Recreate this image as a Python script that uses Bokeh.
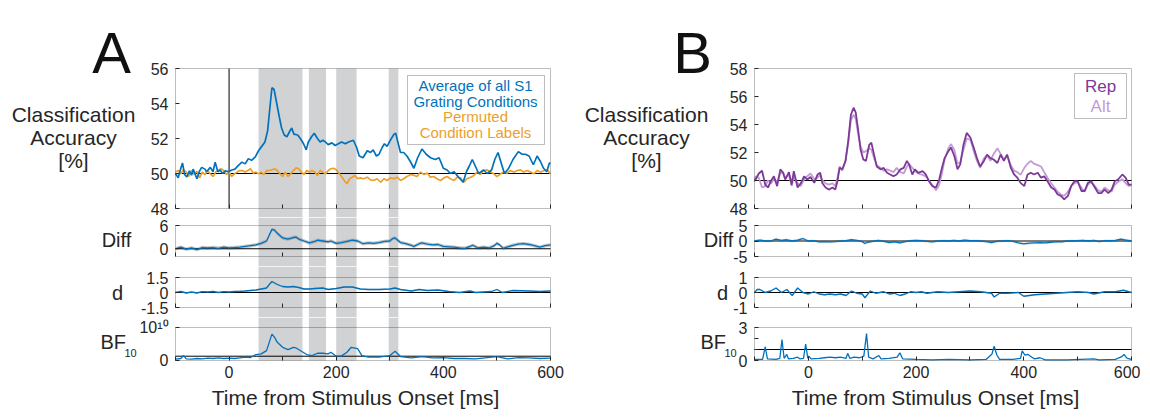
from bokeh.plotting import figure
from bokeh.layouts import column, row
from bokeh.models import Range1d, FixedTicker, BoxAnnotation, Label
from bokeh.embed import file_html
from bokeh.resources import INLINE

# ---------------- data ----------------
x_major_ticks = [0, 200, 400, 600]
x_minor_ticks = [-100, 100, 300, 500]
shade_start = [55, 149, 200, 298]
shade_end = [137, 181, 238, 316]

# Panel A: classification accuracy (blue = all S1 grating conditions)
t_acc_A = [-100, -95, -91, -87, -83, -79, -74, -70, -67, -60, -55, -51, -45, -42, -35, -30, -26, -21, -17, -12,
           -7, -1, 5, 11, 17, 24, 30, 36, 42, 49, 55, 61, 67, 72, 77, 80, 84, 89, 94, 98,
           103, 108, 113, 117, 121, 128, 133, 139, 144, 148, 154, 159, 165, 170, 175, 180, 185, 192, 198, 204,
           210, 217, 223, 232, 238, 243, 250, 258, 264, 269, 275, 280, 286, 290, 295, 301, 308, 311, 315, 320,
           326, 332, 338, 345, 352, 360, 368, 376, 385, 392, 400, 407, 413, 420, 428, 437, 443, 448, 454, 460,
           466, 475, 482, 490, 496, 502, 508, 514, 522, 530, 540, 547, 553, 560, 568, 575, 581, 587, 593, 598, 600]
acc_A = [50.0, 49.75, 50.2, 50.6, 49.95, 49.8, 50.15, 49.9, 50.25, 49.7, 50.15, 50.35, 50.25, 50.1, 50.35, 50.1, 50.65, 50.1, 50.2, 50.0,
         50.15, 50.1, 50.2, 50.25, 50.45, 50.65, 50.55, 50.85, 50.75, 50.95, 51.3, 51.55, 51.8, 52.45, 54.0, 54.9, 54.8, 54.0, 53.2, 52.6,
         52.2, 52.1, 52.4, 52.6, 52.25, 52.2, 52.0, 51.7, 51.35, 51.8, 52.1, 52.3, 52.0, 51.8, 51.9, 51.8, 51.65, 51.75, 51.6, 51.7,
         51.8, 51.7, 51.8, 51.9, 51.5, 51.0, 50.9, 51.3, 51.2, 51.35, 51.0, 51.1, 51.5, 51.7, 51.55, 51.9, 52.25, 52.3, 51.8, 51.2,
         51.2, 51.0, 50.7, 50.3, 50.9, 51.4, 51.1, 50.9, 50.8, 50.9, 50.3, 50.2, 50.0, 50.1, 49.8, 49.5, 50.1, 50.4, 50.8, 50.4,
         50.0, 50.2, 50.0, 50.2, 50.8, 51.2, 50.6, 50.0, 50.3, 50.8, 51.25, 51.1, 51.1, 51.0, 50.5, 51.0, 50.7, 50.3, 50.1, 50.6, 50.6]

# Panel A: permuted condition labels (orange)
t_perm_A = [-100, -95, -90, -85, -80, -75, -70, -65, -60, -55, -50, -45, -40, -35, -30, -25, -20, -15, -10, -5,
            0, 5, 10, 15, 20, 25, 30, 35, 40, 45, 50, 55, 60, 65, 70, 75, 80, 85, 90, 95,
            100, 105, 110, 115, 120, 125, 130, 135, 140, 145, 150, 155, 160, 165, 170, 175, 180, 185, 190, 195,
            200, 205, 210, 215, 220, 225, 230, 235, 240, 245, 251, 258, 264, 270, 276, 283, 289, 295, 301, 308,
            314, 320, 326, 332, 339, 345, 351, 357, 364, 370, 376, 382, 388, 395, 401, 407, 413, 420, 426, 432,
            438, 444, 451, 457, 463, 469, 475, 482, 488, 494, 500, 507, 513, 519, 525, 532, 538, 544, 550, 556,
            563, 569, 575, 581, 588, 594, 600]
perm_A = [50.08, 50.17, 49.98, 50.21, 50.08, 49.83, 50.17, 49.94, 50.13, 49.75, 50.08, 49.94, 50.17, 49.98, 49.83, 50.08, 50.17, 50.27, 50.17, 49.94,
          50.08, 49.83, 49.98, 50.08, 50.17, 50.17, 50.08, 50.17, 50.27, 50.02, 50.08, 49.98, 50.08, 49.94, 50.17, 50.17, 50.21, 50.27, 50.17, 49.98,
          49.83, 50.08, 49.83, 49.98, 50.17, 50.32, 50.27, 50.08, 49.94, 50.17, 50.08, 50.17, 50.08, 49.89, 50.17, 50.08, 49.98, 50.17, 50.27, 50.3,
          50.21, 50.02, 49.83, 49.6, 49.41, 49.7, 49.79, 49.89, 49.7, 49.75, 49.7, 49.79, 49.64, 49.6, 49.7, 49.5, 49.7, 49.6, 49.75, 49.7,
          49.79, 49.6, 49.7, 49.83, 49.94, 49.89, 49.83, 50.08, 49.94, 50.02, 49.79, 49.83, 49.7, 49.6, 49.75, 49.83, 49.7, 49.6, 49.79, 49.75,
          49.5, 49.7, 49.79, 49.89, 50.08, 49.94, 50.17, 50.21, 50.08, 49.98, 49.83, 49.98, 50.08, 50.02, 50.17, 50.08, 50.17, 50.21, 50.08, 50.17,
          50.08, 49.98, 50.17, 50.08, 50.17, 50.21, 49.98]

# Panel A: difference, effect size d, Bayes factor
t_diff_A = [-100, -90, -80, -70, -60, -50, -40, -30, -20, -10, 0, 10, 20, 30, 40, 50, 60, 70, 75, 80,
            85, 90, 100, 110, 120, 125, 130, 140, 150, 160, 165, 175, 185, 190, 200, 210, 220, 230, 240, 250,
            260, 270, 280, 290, 300, 305, 310, 320, 330, 340, 345, 355, 360, 370, 380, 390, 400, 410, 420, 430,
            440, 450, 455, 465, 475, 485, 495, 500, 505, 512, 520, 530, 540, 550, 560, 570, 580, 590, 600]
diff_A = [0.0, 0.4, -0.1, 0.2, -0.2, 0.3, 0.2, 0.3, 0.1, 0.4, 0.2, 0.3, 0.4, 0.6, 0.8, 1.0, 1.4, 2.0, 3.5, 5.0,
          4.8, 4.0, 2.8, 2.5, 2.9, 3.0, 2.5, 2.0, 1.5, 1.9, 2.2, 2.0, 1.8, 2.0, 1.4, 1.6, 1.9, 2.2, 2.0, 1.3,
          1.5, 1.4, 1.6, 1.9, 2.0, 2.6, 2.8, 1.6, 1.3, 0.9, 0.6, 1.3, 1.5, 1.2, 1.0, 1.1, 0.6, 0.5, 0.4, 0.2,
          0.1, 0.6, 0.9, 0.2, 0.4, 0.2, 0.8, 1.4, 1.0, 0.1, 0.5, 0.9, 1.2, 1.3, 1.1, 0.8, 0.4, 0.8, 1.0]
diff_sem_A = 0.45

t_d_A = [-100, -90, -80, -70, -60, -50, -40, -30, -20, -10, 0, 10, 20, 30, 40, 50, 60, 70, 75, 80,
         85, 90, 100, 110, 120, 130, 140, 150, 160, 175, 185, 200, 215, 230, 245, 260, 280, 300, 310, 320,
         340, 355, 370, 390, 410, 430, 450, 460, 490, 500, 510, 530, 560, 580, 600]
d_A = [0.0, 0.1, -0.05, 0.05, -0.05, 0.08, 0.05, 0.1, 0.0, 0.08, 0.05, 0.1, 0.12, 0.15, 0.2, 0.25, 0.35, 0.45, 0.8, 1.1,
       0.95, 0.8, 0.6, 0.55, 0.6, 0.5, 0.35, 0.35, 0.4, 0.45, 0.3, 0.4, 0.55, 0.55, 0.35, 0.3, 0.3, 0.35, 0.45, 0.3,
       0.15, 0.3, 0.2, 0.25, 0.1, 0.0, 0.15, 0.0, 0.1, 0.3, 0.0, 0.2, 0.15, 0.1, 0.15]
d_sem_A = 0.07

t_bf_A = [-100, -90, -85, -80, -70, -60, -50, -40, -30, -20, -10, 0, 10, 20, 30, 40, 50, 60, 70, 75,
          80, 85, 90, 100, 110, 120, 125, 135, 145, 155, 165, 175, 185, 190, 200, 210, 220, 228, 240, 248,
          260, 280, 300, 310, 320, 340, 360, 380, 400, 420, 440, 460, 500, 520, 540, 560, 580, 600]
bf_A = [0.4, 0.6, 1.5, 0.5, 0.4, 0.6, 0.5, 0.7, 0.6, 0.8, 0.6, 0.7, 0.6, 0.8, 1.0, 0.9, 1.8, 2.0, 3.0, 5.5,
        8.0, 7.0, 5.5, 4.0, 3.3, 4.0, 3.8, 2.8, 1.8, 1.5, 2.2, 2.2, 2.0, 2.5, 1.3, 1.4, 2.5, 4.0, 3.6, 1.5,
        1.0, 1.0, 1.5, 2.8, 1.2, 0.8, 1.2, 0.8, 0.9, 0.6, 0.6, 0.5, 1.2, 0.5, 0.9, 0.8, 0.6, 0.7]
bf_ref_A = 1.3

# Panel B: Rep vs Alt
t_B = [-100, -98, -92, -86, -80, -75, -69, -64, -58, -52, -47, -43, -36, -31, -27, -20, -14, -8, -2, 4,
       11, 17, 22, 26, 32, 38, 45, 50, 54, 58, 63, 69, 74, 79, 84, 88, 92, 97, 102, 107,
       113, 117, 122, 127, 134, 140, 146, 152, 158, 164, 171, 177, 183, 187, 193, 198, 204, 212, 218, 224,
       230, 237, 243, 248, 253, 260, 265, 271, 277, 282, 288, 294, 301, 307, 313, 319, 326, 332, 338, 344,
       351, 357, 363, 369, 376, 382, 388, 394, 401, 407, 413, 419, 426, 432, 438, 444, 451, 457, 463, 469,
       475, 482, 488, 494, 500, 507, 513, 519, 525, 532, 538, 544, 550, 557, 563, 569, 575, 583, 589, 595, 600]
rep_B = [50.1, 50.07, 50.5, 50.7, 49.7, 49.5, 50.0, 50.3, 49.6, 50.8, 50.55, 50.07, 50.6, 49.7, 50.67, 49.5, 49.8, 50.3, 50.07, 50.25,
         49.83, 50.43, 50.55, 49.8, 49.5, 49.35, 49.5, 49.35, 49.95, 50.9, 50.8, 51.4, 52.8, 54.7, 55.2, 54.85, 53.75, 52.2, 51.5, 51.4,
         52.55, 52.7, 51.85, 51.0, 50.8, 50.9, 50.55, 50.43, 50.3, 50.43, 50.8, 50.9, 51.4, 51.15, 50.43, 50.8, 50.55, 50.67, 50.43, 49.95,
         49.6, 49.5, 50.07, 50.9, 51.6, 52.1, 52.35, 51.75, 50.8, 51.15, 52.55, 53.4, 53.05, 52.35, 51.6, 51.0, 51.4, 51.85, 51.6, 51.5,
         51.25, 51.85, 51.4, 51.85, 50.9, 50.43, 50.2, 49.83, 49.6, 50.43, 50.55, 50.43, 50.55, 50.2, 50.3, 49.95, 49.5, 49.35, 49.0, 48.9,
         48.65, 48.9, 49.6, 49.95, 49.95, 49.25, 49.25, 49.83, 49.95, 49.5, 49.1, 49.1, 49.35, 49.1, 49.35, 49.95, 50.07, 50.43, 50.2, 49.7, 49.7]
alt_B = [49.9, 50.3, 50.2, 49.5, 49.6, 50.0, 49.8, 50.1, 49.9, 50.5, 50.6, 50.2, 50.4, 49.6, 50.3, 49.8, 49.6, 50.1, 50.3, 50.5,
         50.1, 50.2, 50.4, 50.0, 49.8, 49.7, 49.8, 49.6, 50.2, 51.0, 50.7, 51.4, 52.7, 54.3, 54.7, 54.4, 53.4, 52.4, 52.0, 52.1,
         52.3, 52.2, 51.6, 51.1, 50.9, 50.7, 50.8, 50.7, 50.6, 50.9, 50.6, 50.5, 51.0, 51.2, 50.9, 50.7, 50.5, 50.4, 50.3, 50.0,
         49.7, 49.3, 49.7, 50.5, 51.5, 52.3, 52.6, 52.2, 51.2, 51.3, 52.2, 53.0, 52.9, 52.1, 51.4, 50.9, 51.6, 51.8, 51.4, 51.9,
         52.3, 51.9, 51.5, 51.8, 51.1, 50.7, 50.6, 50.4, 50.9, 51.2, 51.4, 51.2, 51.1, 51.0, 50.6, 50.2, 49.8, 49.5, 49.2, 49.0,
         48.9, 49.2, 49.6, 49.8, 49.9, 49.5, 49.2, 49.7, 49.9, 49.6, 49.3, 49.2, 49.5, 49.3, 49.2, 49.7, 49.9, 50.1, 49.8, 49.6, 49.7]

t_diff_B = [-100, -90, -80, -70, -60, -50, -40, -30, -20, -10, 0, 10, 20, 30, 40, 50, 60, 70, 80, 90,
            100, 105, 110, 120, 130, 140, 150, 160, 170, 180, 190, 200, 210, 220, 230, 240, 250, 260, 270, 280,
            290, 300, 310, 320, 330, 340, 350, 360, 370, 380, 390, 400, 410, 420, 430, 440, 450, 460, 470, 480,
            490, 500, 510, 520, 530, 540, 550, 560, 570, 580, 590, 600]
diff_B = [0.0, 0.3, 0.0, 0.0, 0.6, 0.2, 0.4, 0.0, 0.3, 0.8, 0.0, 0.1, -0.3, -0.2, -0.3, -0.2, 0.0, 0.1, 0.4, 0.2,
          -0.2, -0.8, -0.4, -0.1, 0.2, -0.1, -0.5, -0.3, -0.6, -0.2, 0.1, 0.2, 0.1, -0.1, -0.3, 0.0, 0.1, 0.0, 0.2, 0.0,
          0.3, 0.1, 0.1, 0.0, -0.2, -0.5, -0.1, 0.0, 0.1, -0.1, -0.6, -0.9, -0.7, -0.6, -0.5, -0.6, -0.4, -0.2, -0.3, 0.0,
          0.0, 0.1, 0.2, 0.0, 0.2, -0.2, 0.1, 0.1, 0.2, 0.6, 0.3, 0.0]
diff_sem_B = 0.4

t_d_B = [-100, -95, -90, -80, -70, -60, -50, -40, -30, -20, -10, 0, 10, 20, 30, 40, 50, 60, 70, 80,
         90, 100, 105, 115, 125, 140, 150, 160, 170, 180, 190, 200, 210, 220, 240, 260, 280, 300, 320, 340,
         345, 355, 370, 390, 400, 410, 420, 440, 460, 480, 500, 520, 530, 550, 570, 585, 595, 600]
d_B = [0.0, 0.2, 0.2, 0.0, 0.1, 0.3, 0.0, 0.2, -0.2, 0.3, 0.0, -0.1, 0.05, -0.1, -0.15, -0.1, -0.15, -0.1, -0.2, 0.1,
       -0.05, -0.1, -0.35, 0.1, -0.05, 0.05, -0.1, -0.05, -0.2, -0.1, 0.05, 0.0, 0.05, -0.05, 0.05, 0.0, 0.05, 0.1, 0.05, -0.05,
       -0.3, -0.05, -0.05, 0.0, -0.25, -0.2, -0.15, -0.1, -0.05, 0.0, 0.05, 0.0, -0.1, 0.05, 0.05, 0.15, 0.05, 0.0]
d_sem_B = 0.05

t_bf_B = [-100, -85, -80, -76, -60, -53, -49, -45, -40, -37, -28, -20, -16, -9, -5, -1, 1, 5, 20, 30,
          40, 50, 60, 70, 73, 77, 85, 95, 103, 108, 112, 120, 131, 135, 150, 165, 170, 175, 200, 230,
          260, 300, 330, 341, 345, 350, 355, 380, 394, 397, 402, 408, 415, 420, 430, 440, 480, 530, 540, 570,
          582, 586, 592, 600]
bf_B = [0.1, 0.1, 1.25, 0.15, 0.1, 0.2, 1.9, 0.2, 0.55, 0.15, 0.2, 0.3, 0.15, 0.2, 1.5, 0.2, 0.4, 0.15, 0.2, 0.25,
        0.3, 0.25, 0.3, 0.2, 0.65, 0.2, 0.3, 0.25, 0.4, 2.45, 0.3, 0.15, 0.45, 0.15, 0.2, 0.3, 0.7, 0.15, 0.1, 0.05,
        0.1, 0.05, 0.1, 0.6, 1.3, 0.5, 0.1, 0.1, 0.2, 0.87, 0.5, 0.55, 0.3, 0.15, 0.25, 0.05, 0.05, 0.15, 0.05, 0.1,
        0.35, 0.55, 0.2, 0.1]
bf_ref_B = 1.0

# ---------------- style / layout ----------------
FONT = "Liberation Sans"
AX = "#262626"
BLUE = "#0072BD"
ORANGE = "#EBA02A"
GRAY = "#D1D2D4"
REP = "#7B3A96"
ALT = "#C39BD6"
TICK_FS = "16px"

# column geometry in page pixels: (canvas left, canvas width, box left, box right)
COL_A = (0, 575, 175, 550)
COL_B = (575, 565, 754, 1131)
# vertical slices: (slice top, slice bottom, box top, box bottom)
ROW_TOP = (0, 217, 68, 208)
ROW_DIFF = (217, 266, 225, 256)
ROW_D = (266, 317, 277, 307)
ROW_BF = (317, 410, 327, 360)


class Panel:
    def __init__(self, col, rowg, ylo, yhi, yticks, bottom=False, overrides=None,
                 minor_y=None, shade_top=False, shade_bottom=False, shaded=False):
        cl, cw, bl, br = col
        st, sb, bt, bb = rowg
        self.cl, self.st = cl, st
        self.sx = 700.0 / (br - bl)
        self.sy = (yhi - ylo) / float(bb - bt)
        x0 = -100 - (bl - cl) * self.sx
        x1 = 600 + (cl + cw - br) * self.sx
        y1 = yhi + (bt - st) * self.sy
        y0 = ylo - (sb - bb) * self.sy
        self.x0, self.y1 = x0, y1
        p = figure(width=cw, height=sb - st, x_range=Range1d(x0, x1), y_range=Range1d(y0, y1),
                   output_backend="svg", toolbar_location=None, min_border=0)
        p.title.visible = False
        p.grid.visible = False
        p.outline_line_color = None
        p.background_fill_color = "white"
        p.border_fill_color = "white"
        self.p = p
        if shaded:
            for s, e in zip(shade_start, shade_end):
                p.add_layout(BoxAnnotation(left=s, right=e,
                                           top=yhi if shade_top else None,
                                           bottom=ylo if shade_bottom else None,
                                           fill_color=GRAY, fill_alpha=1,
                                           line_color=None, level="underlay"))
        # axes box
        p.add_layout(BoxAnnotation(left=-100, right=600, bottom=ylo, top=yhi,
                                   fill_color=None, fill_alpha=0,
                                   line_color=AX, line_width=1, level="overlay"))
        xa = p.xaxis[0]
        xa.fixed_location = ylo
        if bottom:
            xa.ticker = FixedTicker(ticks=x_major_ticks, minor_ticks=x_minor_ticks)
            xa.major_label_text_font = FONT
            xa.major_label_text_font_size = TICK_FS
            xa.major_label_text_color = AX
            xa.major_label_standoff = 5
        else:
            xa.ticker = FixedTicker(ticks=[], minor_ticks=x_major_ticks + x_minor_ticks)
        xa.axis_line_color = None
        xa.major_tick_in = 4
        xa.major_tick_out = 0
        xa.minor_tick_in = 4
        xa.minor_tick_out = 0
        xa.major_tick_line_color = AX
        xa.minor_tick_line_color = AX
        ya = p.yaxis[0]
        ya.fixed_location = -100
        ya.ticker = FixedTicker(ticks=yticks, minor_ticks=minor_y or [])
        ya.axis_line_color = None
        ya.major_tick_in = 4
        ya.major_tick_out = 0
        ya.minor_tick_in = 4
        ya.minor_tick_out = 0
        ya.major_tick_line_color = AX
        ya.minor_tick_line_color = AX
        ya.major_label_text_font = FONT
        ya.major_label_text_font_size = TICK_FS
        ya.major_label_text_color = AX
        ya.major_label_standoff = 7
        if overrides:
            ya.major_label_overrides = overrides

    def fx(self, px):
        return self.x0 + (px - self.cl) * self.sx

    def fy(self, py):
        return self.y1 - (py - self.st) * self.sy

    def text(self, px, py, s, size, color=AX, align="center", baseline="middle"):
        self.p.add_layout(Label(x=self.fx(px), y=self.fy(py), text=s, text_font=FONT,
                                text_font_size=size, text_color=color,
                                text_align=align, text_baseline=baseline))

    def legend_box(self, left, right, top, bottom):
        self.p.add_layout(BoxAnnotation(left=self.fx(left), right=self.fx(right),
                                        top=self.fy(top), bottom=self.fy(bottom),
                                        fill_color="white", fill_alpha=1,
                                        line_color=AX, line_width=1))

    def hline(self, y):
        self.p.segment(x0=[-100], x1=[600], y0=[y], y1=[y], line_color="black", line_width=1)


# ---------------- Panel A ----------------
a1 = Panel(COL_A, ROW_TOP, 48, 56, [48, 50, 52, 54, 56], shaded=True, shade_top=True)
a1.p.segment(x0=[0], x1=[0], y0=[48], y1=[56], line_color="black", line_width=1)
a1.hline(50)
a1.p.line(t_perm_A, perm_A, line_color=ORANGE, line_width=1.7)
a1.p.line(t_acc_A, acc_A, line_color=BLUE, line_width=1.7)
a1.legend_box(407, 544, 75, 144)
a1.text(475, 85, "Average of all S1", "15px", BLUE)
a1.text(475, 100.5, "Grating Conditions", "15px", BLUE)
a1.text(475, 116, "Permuted", "15px", ORANGE)
a1.text(475, 131.5, "Condition Labels", "15px", ORANGE)
a1.text(111, 52, "A", "58px", "#111111", baseline="alphabetic")
a1.text(73, 114, "Classification", "21px")
a1.text(73, 137, "Accuracy", "21px")
a1.text(73, 160, "[%]", "21px")

a2 = Panel(COL_A, ROW_DIFF, -2, 6, [0, 6], shaded=True)
a2.p.varea(x=t_diff_A, y1=[v - diff_sem_A for v in diff_A], y2=[v + diff_sem_A for v in diff_A],
           fill_color="#8C8C8C", fill_alpha=0.5)
a2.hline(0)
a2.p.line(t_diff_A, diff_A, line_color=BLUE, line_width=1.3)
a2.text(116, 239, "Diff", "20px")

a3 = Panel(COL_A, ROW_D, -1.5, 1.5, [-1.5, 0, 1.5], overrides={-1.5: "-1.5"}, shaded=True)
a3.p.varea(x=t_d_A, y1=[v - d_sem_A for v in d_A], y2=[v + d_sem_A for v in d_A],
           fill_color="#8C8C8C", fill_alpha=0.35)
a3.hline(0)
a3.p.line(t_d_A, d_A, line_color=BLUE, line_width=1.3)
a3.text(117, 292, "d", "20px")

a4 = Panel(COL_A, ROW_BF, 0, 10, [0, 10], bottom=True, overrides={10: "10\u00b9\u2070"},
           shaded=True, shade_bottom=True)
a4.hline(bf_ref_A)
a4.p.line(t_bf_A, bf_A, line_color=BLUE, line_width=1.3)
a4.text(100, 341, "BF", "20px", align="left")
a4.text(124, 352, "10", "11px", align="left")
a4.text(355, 397, "Time from Stimulus Onset [ms]", "21px")

colA = column(a1.p, a2.p, a3.p, a4.p, spacing=0)

# ---------------- Panel B ----------------
b1 = Panel(COL_B, ROW_TOP, 48, 58, [48, 50, 52, 54, 56, 58])
b1.hline(50)
b1.p.line(t_B, alt_B, line_color=ALT, line_width=1.8)
b1.p.line(t_B, rep_B, line_color=REP, line_width=1.8)
b1.legend_box(1074, 1126, 73, 118)
b1.text(1100, 86, "Rep", "17px", REP)
b1.text(1100, 106, "Alt", "17px", ALT)
b1.text(692, 52, "B", "58px", "#111111", baseline="alphabetic")
b1.text(646, 114, "Classification", "21px")
b1.text(646, 137, "Accuracy", "21px")
b1.text(646, 160, "[%]", "21px")

b2 = Panel(COL_B, ROW_DIFF, -5, 5, [-5, 0, 5], overrides={-5: "-5"})
b2.p.varea(x=t_diff_B, y1=[v - diff_sem_B for v in diff_B], y2=[v + diff_sem_B for v in diff_B],
           fill_color="#8C8C8C", fill_alpha=0.25)
b2.hline(0)
b2.p.line(t_diff_B, diff_B, line_color=BLUE, line_width=1.3)
b2.text(718, 239, "Diff", "20px")

b3 = Panel(COL_B, ROW_D, -1, 1, [-1, 0, 1], overrides={-1: "-1"})
b3.p.varea(x=t_d_B, y1=[v - d_sem_B for v in d_B], y2=[v + d_sem_B for v in d_B],
           fill_color="#8C8C8C", fill_alpha=0.25)
b3.hline(0)
b3.p.line(t_d_B, d_B, line_color=BLUE, line_width=1.3)
b3.text(722, 292, "d", "20px")

b4 = Panel(COL_B, ROW_BF, 0, 3, [0, 3], bottom=True, minor_y=[1, 2])
b4.hline(bf_ref_B)
b4.p.line(t_bf_B, bf_B, line_color=BLUE, line_width=1.3)
b4.text(700, 341, "BF", "20px", align="left")
b4.text(724, 352, "10", "11px", align="left")
b4.text(935, 397, "Time from Stimulus Onset [ms]", "21px")

colB = column(b1.p, b2.p, b3.p, b4.p, spacing=0)

layout = row(colA, colB, spacing=0)

with open("out.html", "w") as f:
    f.write(file_html(layout, INLINE))
